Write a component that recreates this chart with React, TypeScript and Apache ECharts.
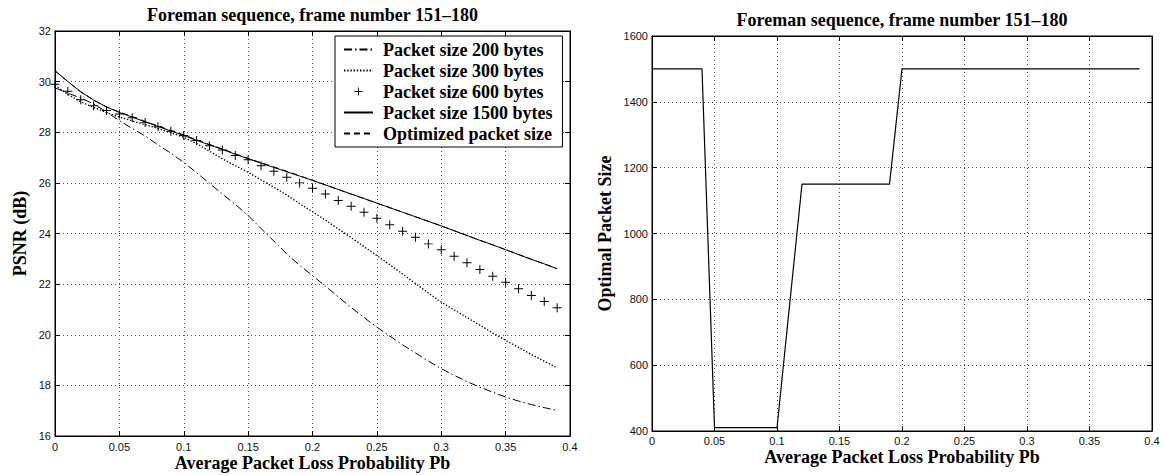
import React, { useEffect, useRef } from "react";
import * as echarts from "echarts";

const lossProb = [0, 0.01, 0.02, 0.03, 0.04, 0.05, 0.06, 0.07, 0.08, 0.09, 0.1, 0.11, 0.12, 0.13, 0.14, 0.15, 0.16, 0.17, 0.18, 0.19, 0.2, 0.21, 0.22, 0.23, 0.24, 0.25, 0.26, 0.27, 0.28, 0.29, 0.3, 0.31, 0.32, 0.33, 0.34, 0.35, 0.36, 0.37, 0.38, 0.39];

const psnr200 = [29.75, 29.55, 29.35, 29.12, 28.8, 28.46, 28.15, 27.85, 27.5, 27.17, 26.81, 26.4, 25.98, 25.56, 25.15, 24.71, 24.2, 23.7, 23.2, 22.74, 22.34, 21.92, 21.5, 21.08, 20.68, 20.3, 19.95, 19.6, 19.28, 18.96, 18.66, 18.4, 18.15, 17.93, 17.73, 17.54, 17.38, 17.24, 17.12, 17.01];
const psnr300 = [29.85, 29.5, 29.2, 28.98, 28.78, 28.6, 28.45, 28.3, 28.15, 27.98, 27.8, 27.55, 27.25, 26.95, 26.68, 26.42, 26.12, 25.83, 25.52, 25.18, 24.86, 24.53, 24.18, 23.84, 23.48, 23.13, 22.77, 22.4, 22.02, 21.65, 21.29, 20.98, 20.68, 20.38, 20.07, 19.78, 19.5, 19.22, 18.95, 18.7];
const psnr600 = [29.9, 29.62, 29.28, 29.05, 28.86, 28.72, 28.57, 28.39, 28.22, 28.04, 27.87, 27.67, 27.47, 27.3, 27.08, 26.91, 26.68, 26.46, 26.22, 26.0, 25.79, 25.56, 25.3, 25.08, 24.84, 24.6, 24.35, 24.09, 23.85, 23.59, 23.36, 23.1, 22.84, 22.58, 22.31, 22.07, 21.82, 21.55, 21.31, 21.07];
const psnr1500 = [30.43, 30.0, 29.6, 29.27, 29.0, 28.78, 28.6, 28.41, 28.23, 28.05, 27.87, 27.68, 27.5, 27.32, 27.13, 26.95, 26.78, 26.61, 26.44, 26.27, 26.1, 25.92, 25.74, 25.56, 25.38, 25.2, 25.02, 24.84, 24.66, 24.48, 24.3, 24.11, 23.92, 23.73, 23.55, 23.36, 23.17, 22.98, 22.8, 22.61];
const psnrOptimized = [30.43, 30.0, 29.6, 29.27, 29.0, 28.8, 28.62, 28.43, 28.25, 28.07, 27.9, 27.7, 27.52, 27.34, 27.15, 26.97, 26.8, 26.63, 26.46, 26.28, 26.1, 25.92, 25.74, 25.56, 25.38, 25.2, 25.02, 24.84, 24.66, 24.48, 24.3, 24.11, 23.92, 23.73, 23.55, 23.36, 23.17, 22.98, 22.8, 22.61];

const optimalSize = [1500, 1500, 1500, 1500, 1500, 410, 410, 410, 410, 410, 410, 780, 1150, 1150, 1150, 1150, 1150, 1150, 1150, 1150, 1500, 1500, 1500, 1500, 1500, 1500, 1500, 1500, 1500, 1500, 1500, 1500, 1500, 1500, 1500, 1500, 1500, 1500, 1500, 1500];

const seriesNames = [
  "Packet size 200 bytes",
  "Packet size 300 bytes",
  "Packet size 600 bytes",
  "Packet size 1500 bytes",
  "Optimized packet size",
];

const chartTitle = "Foreman sequence, frame number 151\u2013180";
const xTitle = "Average Packet Loss Probability Pb";
const leftYTitle = "PSNR (dB)";
const rightYTitle = "Optimal Packet Size";

const pairs = (ys: number[]) => lossProb.map((x, i) => [x, ys[i]]);

const SERIF = '"Liberation Serif", "Times New Roman", serif';
const SANS = '"Liberation Sans", Arial, sans-serif';

function fmtX(v: number) {
  return String(Math.round(v * 100) / 100);
}

function axisPair(gridIndex: number, kind: "x" | "y", min: number, max: number, interval: number, margin: number) {
  const main: any = {
    type: "value",
    gridIndex,
    min,
    max,
    interval,
    position: kind === "x" ? "bottom" : "left",
    axisLine: { show: true, onZero: false, lineStyle: { color: "#000", width: 1 } },
    axisTick: { show: true, inside: true, length: 5, lineStyle: { color: "#000" } },
    axisLabel: {
      show: true,
      margin,
      color: "#111",
      fontFamily: SANS,
      fontSize: 11,
      formatter: kind === "x" ? fmtX : (v: number) => String(v),
    },
    splitLine: { show: true, lineStyle: { color: "#555", type: [1, 3], width: 1 } },
  };
  const mirror: any = {
    type: "value",
    gridIndex,
    min,
    max,
    interval,
    position: kind === "x" ? "top" : "right",
    axisLine: { show: true, onZero: false, lineStyle: { color: "#000", width: 1 } },
    axisTick: { show: true, inside: true, length: 5, lineStyle: { color: "#000" } },
    axisLabel: { show: false },
    splitLine: { show: false },
  };
  return [main, mirror];
}

const plusPath = "path://M4.45,0 H5.55 V4.45 H10 V5.55 H5.55 V10 H4.45 V5.55 H0 V4.45 H4.45 Z";

export default function App() {
  const ref = useRef<HTMLDivElement>(null);
  useEffect(() => {
    document.body.style.margin = "0";
    const chart = echarts.init(ref.current!, null, { renderer: "svg" });
    const [lx0, lx1] = axisPair(0, "x", 0, 0.4, 0.05, 5);
    const [ly0, ly1] = axisPair(0, "y", 16, 32, 2, 4);
    const [rx0, rx1] = axisPair(1, "x", 0, 0.4, 0.05, 4);
    const [ry0, ry1] = axisPair(1, "y", 400, 1600, 200, 4);

    const lineBase = (name: string, data: number[], type: any, width = 1) => ({
      name,
      type: "line",
      xAxisIndex: 0,
      yAxisIndex: 0,
      data: pairs(data),
      symbol: "none",
      lineStyle: { color: "#000", width, type },
      itemStyle: { color: "#000" },
      z: 3,
    });

    const titleFont = `bold 18px ${SERIF}`;
    const textEl = (text: string, x: number, y: number, rotation = 0) => ({
      type: "text",
      x,
      y,
      rotation,
      style: {
        text,
        font: titleFont,
        fill: "#000",
        textAlign: "center",
        textVerticalAlign: "middle",
        align: "center",
        verticalAlign: "middle",
      },
    });

    const hideSym = { opacity: 0 };

    chart.setOption({
      animation: false,
      backgroundColor: "#fff",
      grid: [
        { left: 55, top: 31, width: 515, height: 405, show: true, borderColor: "#000", borderWidth: 1, backgroundColor: "transparent" },
        { left: 652, top: 36, width: 500, height: 395, show: true, borderColor: "#000", borderWidth: 1, backgroundColor: "transparent" },
      ],
      xAxis: [lx0, lx1, rx0, rx1],
      yAxis: [ly0, ly1, ry0, ry1],
      legend: {
        data: [
          { name: seriesNames[0], itemStyle: hideSym },
          { name: seriesNames[1], itemStyle: hideSym },
          { name: seriesNames[2] },
          { name: seriesNames[3], itemStyle: hideSym },
          { name: seriesNames[4], itemStyle: hideSym },
        ],
        orient: "vertical",
        left: 335,
        top: 36,
        padding: [3, 10, 3, 8],
        itemGap: 0,
        itemWidth: 29,
        itemHeight: 10,
        backgroundColor: "#fff",
        borderColor: "#000",
        borderWidth: 1,
        borderRadius: 0,
        textStyle: {
          fontFamily: SERIF,
          fontWeight: "bold",
          fontSize: 18,
          color: "#000",
          lineHeight: 21,
          padding: [0, 0, 0, 5],
        },
      },
      graphic: [
        textEl(chartTitle, 312.5, 15),
        textEl(chartTitle, 902, 20),
        textEl(xTitle, 312.5, 463),
        textEl(xTitle, 902, 457),
        textEl(leftYTitle, 20, 233.5, Math.PI / 2),
        textEl(rightYTitle, 605, 233.5, Math.PI / 2),
      ],
      series: [
        lineBase(seriesNames[0], psnr200, [8, 3, 1.5, 3]),
        lineBase(seriesNames[1], psnr300, [1.4, 1.8], 1.3),
        {
          name: seriesNames[2],
          type: "line",
          xAxisIndex: 0,
          yAxisIndex: 0,
          data: pairs(psnr600),
          symbol: plusPath,
          symbolSize: 9,
          showSymbol: true,
          lineStyle: { opacity: 0, width: 0, color: "#000" },
          itemStyle: { color: "#000" },
          z: 3,
        },
        lineBase(seriesNames[3], psnr1500, "solid"),
        lineBase(seriesNames[4], psnrOptimized, [6, 4]),
        {
          name: "Optimal packet size",
          type: "line",
          xAxisIndex: 2,
          yAxisIndex: 2,
          data: pairs(optimalSize),
          symbol: "none",
          lineStyle: { color: "#000", width: 1.2 },
          itemStyle: { color: "#000" },
        },
      ],
    });
    return () => chart.dispose();
  }, []);
  return (
    <div
      ref={ref}
      style={{ position: "absolute", left: 0, top: 0, width: 1164, height: 475, background: "#fff" }}
    />
  );
}
